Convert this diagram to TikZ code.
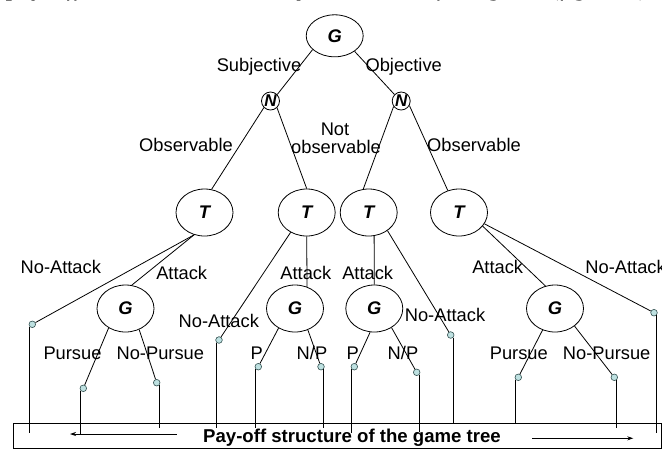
\documentclass[tikz,border=0pt]{standalone}
\usepackage{fontspec}
\setmainfont{Liberation Sans}
\newfontfamily\serifit{Liberation Serif}
\usetikzlibrary{shapes.geometric,arrows.meta}
\definecolor{leaffill}{RGB}{190,225,225}
\definecolor{leafline}{RGB}{50,80,80}
\begin{document}
\begin{tikzpicture}[x=1pt,y=-1pt,line width=0.8pt,
  player/.style={ellipse,draw,inner sep=0pt,minimum width=57pt,minimum height=47pt,font=\fontsize{18.3}{20}\selectfont\bfseries\itshape},
  nature/.style={circle,draw,inner sep=0pt,minimum size=18pt,font=\fontsize{17}{18}\selectfont\bfseries\itshape},
  leaf/.style={circle,draw=leafline,fill=leaffill,inner sep=0pt,minimum size=6.6pt,line width=0.6pt},
  lbl/.style={anchor=base,inner sep=0pt,font=\fontsize{18.3}{20}\selectfont},
  arr/.style={-{Stealth[length=6pt,width=4pt]}}]
\useasboundingbox (0,0) rectangle (662,451);
\clip (0,0) rectangle (662,451);

% cut-off line of text at the top
\node[anchor=base east,inner sep=0pt,font=\serifit\itshape\fontsize{26}{28}\selectfont] (toptext) at (656.7,-5) {pay-off structure in the adequate model of the game (figure 3).};

% decision nodes
\node[player,minimum height=42pt] (G0) at (334.7,35.8) {G};
\node[nature] (N1) at (270.5,101) {N};
\node[nature] (N2) at (401.2,101) {N};
\node[player] (T1) at (204.5,212.5) {T};
\node[player] (T2) at (306.7,212.5) {T};
\node[player] (T3) at (368.7,212.5) {T};
\node[player] (T4) at (459,212.5) {T};
\node[player] (G1) at (125.5,308.5) {G};
\node[player] (G2) at (295,308.5) {G};
\node[player] (G3) at (374.3,308.5) {G};
\node[player] (G4) at (555,308.5) {G};

% leaves
\node[leaf] (L1) at (32.3,324.3) {};
\node[leaf] (L2) at (83.3,388.3) {};
\node[leaf] (L3) at (156.7,382.7) {};
\node[leaf] (L4) at (219,340) {};
\node[leaf] (L5) at (258.3,366.7) {};
\node[leaf] (L6) at (321,366.7) {};
\node[leaf] (L7) at (354.3,366.7) {};
\node[leaf] (L8) at (416.7,372.3) {};
\node[leaf] (L9) at (450.7,335) {};
\node[leaf] (L10) at (518.3,377.3) {};
\node[leaf] (L11) at (614.3,377.3) {};
\node[leaf] (L12) at (654,312.7) {};

% tree edges
\draw (G0.212) -- (N1.44);
\draw (G0.322) -- (N2.136);
\draw (N1.225) -- (T1.73);
\draw (N1.314) -- (T2.90);
\draw (N2.216) -- (T3.103);
\draw (N2.331) -- (T4.117);
\draw (T1.245) -- (L1);
\draw (T1.245) -- (G1.75);
\draw (T2.270) -- (G2.61);
\draw (T2.231) -- (L4);
\draw (T3.283) -- (G3.90);
\draw (T3.316) -- (L9);
\draw (T4.330) -- (G4.113);
\draw (T4.336) -- (L12);
\draw (G1.229) -- (L2);
\draw (G1.303) -- (L3);
\draw (G2.230) -- (L5);
\draw (G2.301) -- (L6);
\draw (G3.260) -- (L7);
\draw (G3.312) -- (L8);
\draw (G4.240) -- (L10);
\draw (G4.318) -- (L11);

% vertical drops to the pay-off box
\coordinate (E1) at (L1.south west |- 0,433);
\coordinate (E2) at (L2.south west |- 0,435);
\coordinate (E3) at (L3.south east |- 0,428);
\coordinate (E4) at (L4.south west |- 0,427.7);
\coordinate (E5) at (L5.south west |- 0,427.7);
\coordinate (E6) at (L6.south east |- 0,428);
\coordinate (E7) at (L7.south west |- 0,433);
\coordinate (E8) at (L8.south east |- 0,431.7);
\coordinate (E9) at (L9.south east |- 0,423.3);
\coordinate (E10) at (L10.south west |- 0,423.3);
\coordinate (E11) at (L11.south east |- 0,428.3);
\coordinate (E12) at (L12.south east |- 0,433);
\draw (L1.south west) -- (E1);
\draw (L2.south west) -- (E2);
\draw (L3.south east) -- (E3);
\draw (L4.south west) -- (E4);
\draw (L5.south west) -- (E5);
\draw (L6.south east) -- (E6);
\draw (L7.south west) -- (E7);
\draw (L8.south east) -- (E8);
\draw (L9.south east) -- (E9);
\draw (L10.south west) -- (E10);
\draw (L11.south east) -- (E11);
\draw (L12.south east) -- (E12);

% pay-off box
\node[draw,minimum width=648pt,minimum height=25pt,inner sep=0pt] (box) at (337.4,435.8) {};
\node[lbl,font=\fontsize{18.6}{20}\selectfont\bfseries] (title) at (352,442.7) {Pay-off structure of the game tree};
\coordinate (A1s) at (176.7,434);
\coordinate (A1e) at (70,434);
\draw[arr] (A1s) -- (A1e);
\coordinate (A2s) at (532.3,438.3);
\coordinate (A2e) at (633.3,438.3);
\draw[arr] (A2s) -- (A2e);

% labels
\node[lbl] (lsub) at (259,71.7) {Subjective};
\node[lbl] (lobj) at (403.7,71.7) {Objective};
\node[lbl] (lobs1) at (186,151.5) {Observable};
\node[lbl] (lnot) at (335,135.5) {Not};
\node[lbl] (lnobs) at (336,153) {observable};
\node[lbl] (lobs2) at (474,151.5) {Observable};
\node[lbl] (lna1) at (60.8,273.8) {No-Attack};
\node[lbl] (la1) at (181.7,279.8) {Attack};
\node[lbl] (la2) at (305.8,279.8) {Attack};
\node[lbl] (la3) at (367.7,279.8) {Attack};
\node[lbl] (la4) at (497.7,273.2) {Attack};
\node[lbl,anchor=base west] (lna4) at (585,273.2) {No-Attack};
\node[lbl] (lna2) at (218.8,327.2) {No-Attack};
\node[lbl] (lna3) at (445,321.5) {No-Attack};
\node[lbl] (lp1) at (72.5,359.2) {Pursue};
\node[lbl] (lnp1) at (160.3,359.2) {No-Pursue};
\node[lbl] (lp2) at (256.7,359.2) {P};
\node[lbl] (lnp2) at (312,359.2) {N/P};
\node[lbl] (lp3) at (352.7,359.2) {P};
\node[lbl] (lnp3) at (403,359.2) {N/P};
\node[lbl] (lp4) at (518.8,359.2) {Pursue};
\node[lbl] (lnp4) at (606.7,359.2) {No-Pursue};
\end{tikzpicture}
\end{document}
